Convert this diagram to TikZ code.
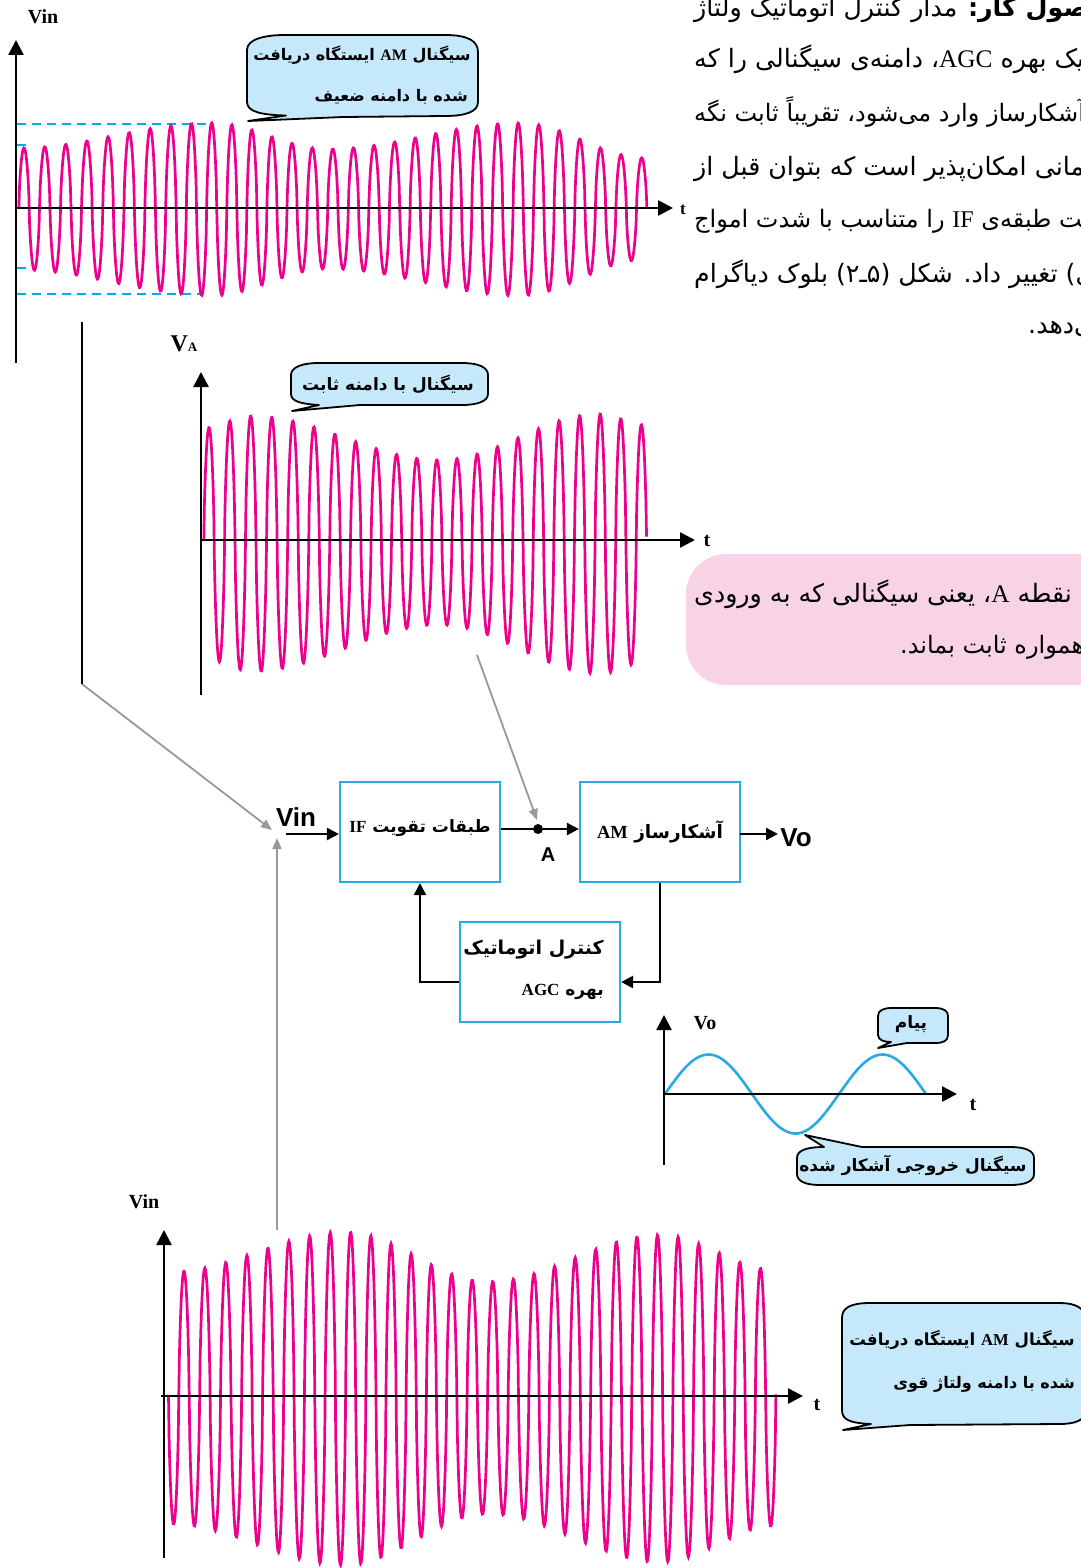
\documentclass[tikz,border=0pt]{standalone}
\usepackage{fontspec}
\setmainfont{Liberation Serif}
\newfontfamily\farsi[Script=Arabic]{DejaVu Sans}
\newfontfamily\blocksans{Liberation Sans}
\TeXXeTstate=1
\usetikzlibrary{arrows.meta}

\definecolor{wavepink}{HTML}{EC008C}
\definecolor{bubbleblue}{HTML}{C5E8FA}
\definecolor{boxblue}{HTML}{29ABE2}
\definecolor{dashblue}{HTML}{00AEEF}
\definecolor{notepink}{HTML}{F8D3E6}

\newcommand{\fa}[1]{{\farsi\beginR #1\endR}}
\newcommand{\lat}[1]{\beginL{\rmfamily #1}\endL}

% envelope pieces and the carrier of the AM signals
\pgfmathdeclarefunction{easeamp}{5}{\pgfmathparse{#3+(#5-#3)*(1-cos(180*((#1-#2)/(#4-#2))))/2}}
\pgfmathdeclarefunction{bump}{4}{\pgfmathparse{(#1>#2 && #1<#3) ? #4*sin(180*((#1-#2)/(#3-#2)))^2 : 0}}
\pgfmathdeclarefunction{carrier}{3}{\pgfmathparse{sin(360*((#1-#2)/20.59))}\let\carrierval\pgfmathresult
  \pgfmathparse{(\carrierval>0 ? 1 : -#3)*(abs(\carrierval)+0.0001)^0.65}}
\pgfmathdeclarefunction{envweak}{1}{\pgfmathparse{#1<212 ? easeamp(#1,18,60,212,85) : (#1<328 ? easeamp(#1,212,85,328,59) : (#1<520 ? easeamp(#1,328,59,520,85) : easeamp(#1,520,85,646,50)))}}
\pgfmathdeclarefunction{envfixed}{1}{\pgfmathparse{#1<251 ? easeamp(#1,204,112,251,124) : (#1<440 ? easeamp(#1,251,124,440,80) : (#1<600 ? easeamp(#1,440,80,600,126) : easeamp(#1,600,126,646,115)))}}
\pgfmathdeclarefunction{envstrong}{1}{\pgfmathparse{#1<345 ? easeamp(#1,169,128,345,169) : (#1<488 ? easeamp(#1,345,169,488,118) : (#1<660 ? easeamp(#1,488,118,660,166) : easeamp(#1,660,166,776,130)))}}

\tikzset{
  wave/.style={wavepink, line width=2.7pt},
  axisline/.style={line width=2.6pt, -{Triangle[length=15pt,width=15pt]}},
  chartlabel/.style={font=\bfseries\fontsize{20}{20}\selectfont, inner sep=0pt},
  bubble/.style={draw=black, fill=bubbleblue, line width=1.8pt, line join=round},
  bubbletext/.style={font=\farsi\bfseries\fontsize{17}{17}\selectfont, inner sep=0pt},
  bubblesmall/.style={font=\farsi\bfseries\fontsize{16}{16}\selectfont, inner sep=0pt},
  bodytext/.style={font=\farsi\fontsize{25.3}{26}\selectfont, inner sep=0pt, anchor=base west},
  bodytight/.style={bodytext, font=\farsi\fontsize{24}{26}\selectfont},
  guide/.style={dashblue, line width=1.8pt, dash pattern=on 9pt off 6pt},
  blockbox/.style={draw=boxblue, line width=2.2pt, minimum width=160pt, minimum height=100pt, inner sep=0pt,
    font=\farsi\bfseries\fontsize{17}{17}\selectfont},
  flow/.style={line width=2.4pt, -{Triangle[length=12pt,width=12pt]}},
  flowplain/.style={line width=2.4pt},
  pointer/.style={draw=black!40, line width=1.8pt, -{Triangle[length=11pt,width=9pt]}},
  blocklabel/.style={font=\blocksans\bfseries\fontsize{26}{26}\selectfont, inner sep=0pt}
}

\begin{document}
\begin{tikzpicture}[x=1pt, y=-1pt]
  \path[use as bounding box] (0,0) rectangle (1080,1568);

  % Text column, cut by the page edge
  \node[bodytext] (bodyone) at (694,17) {\fa{{\bfseries اصول کار:} مدار کنترل اتوماتیک ولتاژ}};
  \node[bodytext] (bodytwo) at (694,68) {\fa{یک بهره \lat{AGC}، دامنه‌ی سیگنالی را که}};
  \node[bodytight] (bodythree) at (694,122) {\fa{آشکارساز وارد می‌شود، تقریباً ثابت نگه}};
  \node[bodytext] (bodyfour) at (694,175) {\fa{زمانی امکان‌پذیر است که بتوان قبل از}};
  \node[bodytight] (bodyfive) at (694,227) {\fa{تقویت طبقه‌ی \lat{IF} را متناسب با شدت امواج}};
  \node[bodytext] (bodysix) at (694,282) {\fa{ورودی) تغییر داد. شکل (۵ـ۲) بلوک دیاگرام}};
  \node[bodytext] (bodyseven) at (1028,333) {\fa{می‌دهد.}};

  % Weak input signal
  \draw[guide] (17,124) -- (212,124);
  \draw[guide] (17,294) -- (200,294);
  \draw[guide] (17,145) -- (26,145);
  \draw[guide] (17,268) -- (35,268);
  \draw[wave] plot[domain=18.85:646.84, samples=1000] (\x,{208-envweak(\x)*carrier(\x-bump(\x,19,332,2.8),18.85,1.03)});
  \draw[axisline] (16,363) -- (16,40);
  \draw[axisline] (16,208) -- (673,208);
  \node[chartlabel] (vintop) at (43,17) {Vin};
  \node[chartlabel, font=\bfseries\fontsize{17}{17}\selectfont] (ttop) at (683,210) {t};
  \draw[bubble] (247,50) .. controls (247,39) and (265,35) .. (285,35) -- (445,35)
    .. controls (468,35) and (478,41) .. (478,52) -- (478,102)
    .. controls (478,112) and (465,116) .. (445,116) -- (343,117) -- (248,121) -- (286,115.5)
    .. controls (262,115) and (247,112) .. (247,102) -- cycle;
  \node[bubblesmall] (weakone) at (362,55) {\fa{سیگنال \lat{AM} ایستگاه دریافت}};
  \node[bubblesmall, anchor=east] (weaktwo) at (468,97) {\fa{شده با دامنه ضعیف}};

  % Signal at point A
  \draw[wave] plot[domain=203.85:646.53, samples=800] (\x,{540-envfixed(\x)*carrier(\x-bump(\x,204,520,2.6),203.85,1.06)});
  \draw[axisline] (201,695) -- (201,372);
  \draw[axisline] (201,540) -- (695,540);
  \node[chartlabel, font=\bfseries\fontsize{24}{24}\selectfont] (vaname) at (184,344) {V{\fontsize{13}{13}\selectfont A}};
  \node[chartlabel] (tfixed) at (707,541) {t};
  \draw[bubble] (291,375) .. controls (291,367) and (303,363) .. (318,363) -- (462,363)
    .. controls (478,363) and (488,367) .. (488,375) -- (488,394)
    .. controls (488,401) and (478,405) .. (462,405) -- (360,405) -- (292,411) -- (319,405)
    .. controls (303,404) and (291,402) .. (291,394) -- cycle;
  \node[bubbletext] (fixedtext) at (388,384) {\fa{سیگنال با دامنه ثابت}};

  % Pink note
  \fill[notepink, rounded corners=40pt] (686,554) rectangle (1140,685);
  \node[bodytext] (noteone) at (694,602) {\fa{نقطه \lat{A}، یعنی سیگنالی که به ورودی}};
  \node[bodytight] (notetwo) at (900,653) {\fa{همواره ثابت بماند.}};

  % Block diagram
  \node[blockbox, text depth=12pt] (ifstage) at (420,832) {\fa{طبقات تقویت \lat{IF}}};
  \node[blockbox, text depth=4pt, font=\farsi\bfseries\fontsize{18.5}{19}\selectfont] (detector) at (660,832) {\fa{آشکارساز \lat{AM}}};
  \node[blockbox, align=right, text depth=8pt] (agcbox) at (540,972)
    {{\fontsize{19}{19}\selectfont\fa{کنترل اتوماتیک}}\hspace*{13pt}\\[24pt]\fa{بهره \lat{AGC}}\hspace*{13pt}};
  \node[circle, fill=black, minimum size=10pt, inner sep=0pt] (dota) at (538,829) {};
  \node[blocklabel] (vinblock) at (296,817) {Vin};
  \node[blocklabel] (voblock) at (796,838) {Vo};
  \node[blocklabel, font=\blocksans\bfseries\fontsize{20}{20}\selectfont] (alabel) at (548,855) {A};
  \coordinate (vinstart) at (286,834);
  \coordinate (vostart) at (740,834);
  \coordinate (voend) at (778,834);
  \draw[flow] (vinstart) -- (ifstage.west |- vinstart);
  \draw[flowplain] (ifstage.east |- dota) -- (dota);
  \draw[flow] (dota) -- (detector.west |- dota);
  \draw[flow] (vostart) -- (voend);
  \draw[flow] (detector.south) |- (agcbox.east |- 0,982);
  \draw[flow] (agcbox.west |- 0,982) -| (ifstage.south);

  % Gray pointers from the signals
  \coordinate (weakfoot) at (82,322);
  \coordinate (weakbend) at (82,684);
  \coordinate (weakend) at (272,830);
  \coordinate (fixedfoot) at (477,655);
  \coordinate (fixedend) at (537,820);
  \coordinate (strongfoot) at (277,1230);
  \coordinate (strongend) at (277,838);
  \draw[pointer] (weakbend) -- (weakend);
  \draw[line width=1.8pt] (weakfoot) -- (weakbend);
  \draw[pointer] (fixedfoot) -- (fixedend);
  \draw[pointer] (strongfoot) -- (strongend);

  % Detected output
  \draw[boxblue, line width=2.6pt] plot[domain=665:926, samples=120] (\x,{1094-39.5*sin(360*((\x-665)/174))});
  \draw[axisline] (664,1165) -- (664,1015);
  \draw[axisline] (664,1094) -- (957,1094);
  \node[chartlabel] (voname) at (705,1023) {Vo};
  \node[chartlabel] (tout) at (973,1105) {t};
  \draw[bubble] (878,1016) .. controls (878,1010) and (884,1008) .. (892,1008) -- (935,1008)
    .. controls (944,1008) and (948,1011) .. (948,1016) -- (948,1035)
    .. controls (948,1041) and (943,1043) .. (935,1043) -- (907,1043) -- (878,1048) -- (891,1042)
    .. controls (884,1042) and (878,1040) .. (878,1035) -- cycle;
  \node[bubbletext] (messagetext) at (911,1024) {\fa{پیام}};
  \draw[bubble] (797,1158) .. controls (797,1151) and (805,1147) .. (824,1147) -- (805,1135) -- (862,1147) -- (1010,1147)
    .. controls (1026,1147) and (1034,1151) .. (1034,1158) -- (1034,1174)
    .. controls (1034,1181) and (1026,1185) .. (1010,1185) -- (820,1185)
    .. controls (805,1185) and (797,1181) .. (797,1174) -- cycle;
  \node[bubbletext] (outtext) at (913,1165) {\fa{سیگنال خروجی آشکار شده}};

  % Strong input signal
  \draw[wave] plot[domain=168.5:775.91, samples=1000] (\x,{1396+envstrong(\x)*carrier(\x-bump(\x,169,472,2.2),168.5,0.97)});
  \draw[axisline] (161,1396) -- (803,1396);
  \draw[axisline] (164,1558) -- (164,1230);
  \node[chartlabel] (vinbottom) at (144,1202) {Vin};
  \node[chartlabel] (tbottom) at (817,1405) {t};
  \draw[bubble] (842,1318) .. controls (842,1308) and (850,1303) .. (870,1303) -- (1060,1303)
    .. controls (1075,1303) and (1085,1308) .. (1085,1318) -- (1085,1412)
    .. controls (1085,1420) and (1075,1424) .. (1060,1424) -- (910,1425) -- (843,1430) -- (871,1424)
    .. controls (850,1423) and (842,1420) .. (842,1410) -- cycle;
  \node[bubblesmall, anchor=east, font=\farsi\bfseries\fontsize{16.6}{17}\selectfont] (strongone) at (1075,1340) {\fa{سیگنال \lat{AM} ایستگاه دریافت}};
  \node[bubblesmall, anchor=east] (strongtwo) at (1075,1384) {\fa{شده با دامنه ولتاژ قوی}};
\end{tikzpicture}
\end{document}
